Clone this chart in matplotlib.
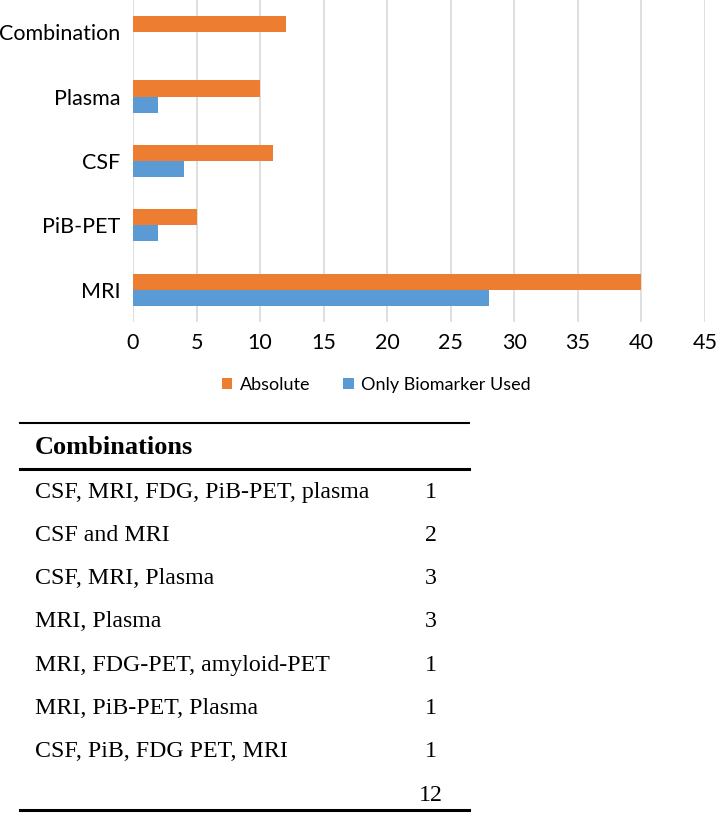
import matplotlib
matplotlib.use("Agg")
import matplotlib.pyplot as plt
from matplotlib.lines import Line2D
import numpy as np

# chart data
categories = ["MRI", "PiB-PET", "CSF", "Plasma", "Combination"]
absolute = [40, 5, 11, 10, 12]
only_used = [28, 2, 4, 2, 0]

# table data
combos = ["CSF, MRI, FDG, PiB-PET, plasma", "CSF and MRI", "CSF, MRI, Plasma",
          "MRI, Plasma", "MRI, FDG-PET, amyloid-PET", "MRI, PiB-PET, Plasma",
          "CSF, PiB, FDG PET, MRI", ""]
combo_counts = ["1", "2", "3", "3", "1", "1", "1", "12"]

W, H = 716, 813
fig = plt.figure(figsize=(W / 100, H / 100), dpi=100)
ax = fig.add_axes([133 / W, 1 - 322 / H, (705 - 133) / W, 322 / H])

y = np.arange(len(categories))
bh = 0.25
ax.barh(y + bh / 2, absolute, height=bh, color="#ED7D31", label="Absolute", zorder=3)
ax.barh(y - bh / 2, only_used, height=bh, color="#5B9BD5", label="Only Biomarker Used", zorder=3)

ax.set_xlim(0, 45)
ax.set_ylim(-0.5, len(categories) - 0.5)
ax.set_xticks(np.arange(0, 46, 5))
ax.set_yticks(y)
ax.set_yticklabels(categories)
for s in ax.spines.values():
    s.set_visible(False)
ax.grid(axis="x", color="#D9D9D9", linewidth=1.2, zorder=0)
ax.tick_params(axis="both", length=0, labelsize=15.5, colors="black")
ax.tick_params(axis="x", pad=8)
ax.tick_params(axis="y", pad=9)
for lab in ax.get_xticklabels() + ax.get_yticklabels():
    lab.set_family("Lato")

fig.legend(loc="center", bbox_to_anchor=(376 / W, 1 - 385 / H), ncol=2, frameon=False,
           handlelength=0.6, handleheight=0.6, columnspacing=1.8, handletextpad=0.4,
           prop={"family": "Lato", "size": 13})

# table below the chart
def hline(yp, lw):
    fig.add_artist(Line2D([20 / W, 469 / W], [1 - yp / H, 1 - yp / H], color="black",
                          linewidth=lw, transform=fig.transFigure))

hline(423, 1.5)
hline(469, 2.2)
hline(810, 2.2)
fig.text(35 / W, 1 - 447 / H, "Combinations", family="Liberation Serif", weight="bold",
         size=19, va="center", ha="left")
for i, (name, n) in enumerate(zip(combos, combo_counts)):
    yp = 492 + i * 43.3
    fig.text(35 / W, 1 - yp / H, name, family="Liberation Serif", size=17.2,
             va="center", ha="left")
    fig.text(431 / W, 1 - yp / H, n, family="Liberation Serif", size=17.2,
             va="center", ha="center")

fig.savefig("out.png", dpi=100)
